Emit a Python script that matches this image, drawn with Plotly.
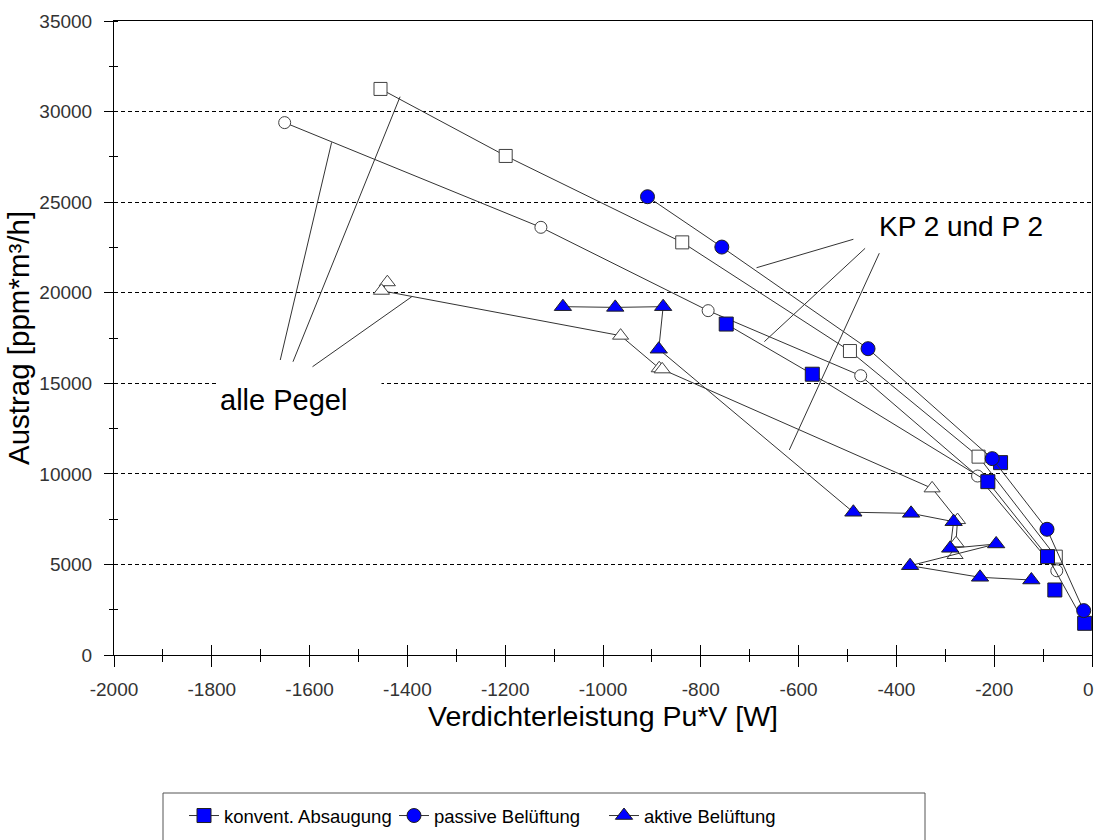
import plotly.graph_objects as go

# ---- data ----
# "alle Pegel" (open markers)
op_sq_x = [-1455, -1199, -838, -495, -232, -74]
op_sq_y = [31250, 27550, 22780, 16780, 10950, 5430]
op_ci_x = [-1651, -1127, -785, -473, -234, -72]
op_ci_y = [29390, 23610, 19010, 15420, 9880, 4650]
op_tr_x = [-1441, -1453, -964, -885, -879, -327, -275, -278, -280]
op_tr_y = [20580, 20110, 17630, 15830, 15770, 9200, 7450, 6170, 5520]

# "KP 2 und P 2" (filled markers)
konv_x = [-748, -572, -213, -91, -15]
konv_y = [18270, 15500, 9570, 5430, 1750]
konv_extra_x = [-187, -76]
konv_extra_y = [10620, 3590]
pass_x = [-909, -757, -458, -204, -92, -17]
pass_y = [25300, 22520, 16910, 10840, 6940, 2450]
akt_x = [-1082, -975, -877, -886, -488, -370, -283, -290, -196, -372, -229, -124]
akt_y = [19230, 19190, 19230, 16880, 7880, 7820, 7360, 5890, 6130, 4930, 4290, 4140]

# leader lines for the text labels (data coordinates: x0, y0, x1, y1)
alle_lines = [(-1555, 28300, -1660, 16285),
              (-1415, 30820, -1634, 16190),
              (-1391, 19780, -1594, 15915)]
kp_lines = [(-488, 22950, -686, 21380),
            (-464, 22450, -670, 17300),
            (-435, 22180, -619, 11320)]

x_ticks = list(range(-2000, 1, 200))
# the last label ("0") sits at the right edge; it is drawn as an annotation below
x_ticktext = [str(v) for v in x_ticks[:-1]] + [""]
y_ticks = list(range(0, 35001, 5000))
y_ticktext = [str(v) for v in y_ticks]

FONT = "Liberation Sans, Arial, sans-serif"
LINE = "#333333"
BLUE = "#0000ff"

fig = go.Figure()

def open_trace(x, y, symbol, size):
    fig.add_trace(go.Scatter(
        x=x, y=y, mode="lines+markers", showlegend=False, hoverinfo="skip",
        line=dict(color=LINE, width=1),
        marker=dict(symbol=symbol, size=size, color="white",
                    line=dict(color="#404040", width=1))))

open_trace(op_sq_x, op_sq_y, "square", 13)
open_trace(op_ci_x, op_ci_y, "circle", 12)
open_trace(op_tr_x, op_tr_y, "triangle-up", 14)

fig.add_trace(go.Scatter(
    x=konv_extra_x, y=konv_extra_y, mode="markers", showlegend=False,
    marker=dict(symbol="square", size=14, color=BLUE, line=dict(color="#202020", width=1))))

def filled_trace(x, y, symbol, size, name):
    fig.add_trace(go.Scatter(
        x=x, y=y, mode="lines+markers", name=name,
        line=dict(color=LINE, width=1),
        marker=dict(symbol=symbol, size=size, color=BLUE,
                    line=dict(color="#202020", width=1))))

filled_trace(konv_x, konv_y, "square", 14, "konvent. Absaugung")
filled_trace(pass_x, pass_y, "circle", 14, "passive Belüftung")
filled_trace(akt_x, akt_y, "triangle-up", 15, "aktive Belüftung")

# dummy trace for the overlay axes (used for the crossing tick marks)
fig.add_trace(go.Scatter(x=[None], y=[None], xaxis="x2", yaxis="y2",
                         showlegend=False, hoverinfo="skip"))

for (x0, y0, x1, y1) in alle_lines + kp_lines:
    fig.add_shape(type="line", x0=x0, y0=y0, x1=x1, y1=y1, xref="x", yref="y",
                  line=dict(color=LINE, width=1))

# legend frame (wider than plotly's own legend box)
fig.add_shape(type="rect", xref="paper", yref="paper",
              x0=(163 - 114) / 978, x1=(925 - 114) / 978,
              y0=(655 - 842) / 634, y1=(655 - 793) / 634,
              line=dict(color="#555555", width=1), fillcolor="rgba(0,0,0,0)",
              layer="below")

fig.add_annotation(x=-1788, y=14080, xref="x", yref="y", text="alle Pegel",
                   showarrow=False, xanchor="left", yanchor="middle", align="left",
                   width=160, bgcolor="white",
                   font=dict(family=FONT, size=29, color="black"))
fig.add_annotation(x=-440, y=23630, xref="x", yref="y", text="KP 2 und P 2",
                   showarrow=False, xanchor="left", yanchor="middle",
                   font=dict(family=FONT, size=28, color="black"))
# "0" tick label at the right end of the x axis
fig.add_annotation(x=x_ticks[-1], y=(655 - 689) / 634, xref="x", yref="paper",
                   text=str(x_ticks[-1]), showarrow=False, xanchor="center",
                   yanchor="middle", xshift=-4,
                   font=dict(family=FONT, size=19, color="#333333"))

fig.update_layout(
    width=1095, height=840,
    margin=dict(l=114, r=3, t=21, b=185, autoexpand=False),
    paper_bgcolor="white", plot_bgcolor="white",
    font=dict(family=FONT, size=19, color="#333333"),
    xaxis=dict(range=[-2000, 0], tickvals=x_ticks, ticktext=x_ticktext,
               ticks="outside", ticklen=11, automargin=False,
               tickcolor="black", showline=True, linecolor="black", linewidth=1,
               mirror=True, showgrid=False, zeroline=False,
               minor=dict(dtick=100, ticks="outside", ticklen=6, tickcolor="black"),
               tickfont=dict(size=19, color="#333333"), ticklabelstandoff=6,
               title=dict(text="Verdichterleistung Pu*V [W]",
                          font=dict(size=28.5, color="black"), standoff=5)),
    yaxis=dict(range=[0, 35000], tickvals=y_ticks, ticktext=y_ticktext,
               ticks="outside", ticklen=9, automargin=False,
               tickcolor="black", showline=True, linecolor="black", linewidth=1,
               mirror=True, showgrid=True, gridcolor="black", gridwidth=1,
               griddash="4px,3px", zeroline=False,
               minor=dict(dtick=2500, ticks="inside", ticklen=4, tickcolor="black",
                          showgrid=False),
               tickfont=dict(size=19, color="#333333"), ticklabelstandoff=8,
               title=dict(text="Austrag [ppm*m³/h]",
                          font=dict(size=29.5, color="black"), standoff=1)),
    xaxis2=dict(range=[-2000, 0], overlaying="x", anchor="y", side="bottom",
                tickvals=x_ticks, ticks="inside", ticklen=10, tickcolor="black",
                showticklabels=False, showline=False, showgrid=False, zeroline=False,
                automargin=False,
                minor=dict(dtick=100, ticks="inside", ticklen=6, tickcolor="black")),
    yaxis2=dict(range=[0, 35000], overlaying="y", anchor="x", side="left",
                tickvals=y_ticks, ticks="", showticklabels=False, showline=False,
                showgrid=False, zeroline=False, automargin=False,
                minor=dict(dtick=2500, ticks="outside", ticklen=4, tickcolor="black")),
    legend=dict(orientation="h", x=(184 - 114) / 978, xanchor="left",
                y=(655 - 797) / 634, yanchor="top",
                bgcolor="rgba(0,0,0,0)", borderwidth=0,
                font=dict(family=FONT, size=18.5, color="black"),
                entrywidth=165, entrywidthmode="pixels", itemwidth=30),
)

fig.write_html("out.html")
